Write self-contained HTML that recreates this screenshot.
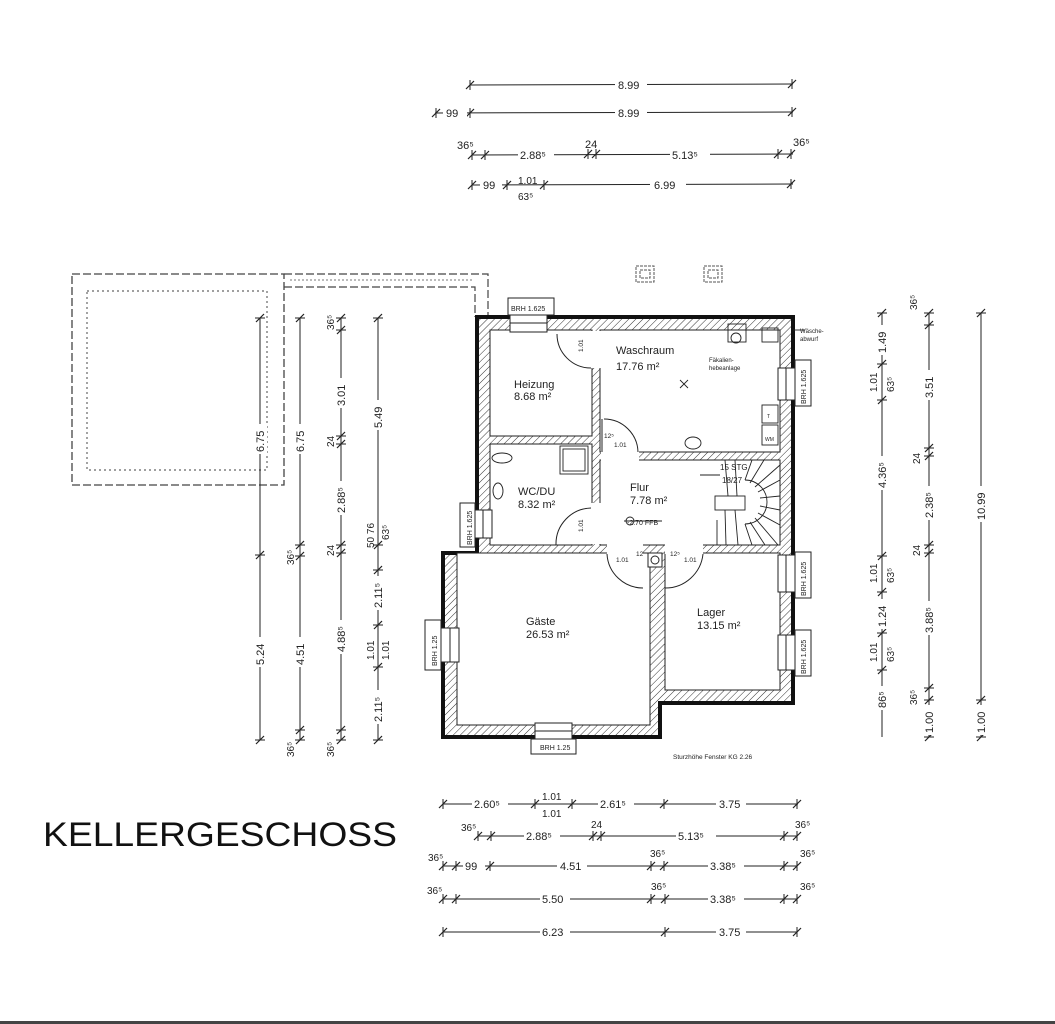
<!DOCTYPE html>
<html><head><meta charset="utf-8"><style>
html,body{margin:0;padding:0;background:#fff;}
svg{display:block}
text{font-family:"Liberation Sans",sans-serif;fill:#222}
</style></head><body>
<svg width="1055" height="1024" viewBox="0 0 1055 1024" xmlns="http://www.w3.org/2000/svg">
<defs>
<pattern id="h" width="5" height="5" patternUnits="userSpaceOnUse" patternTransform="rotate(45)">
<rect width="5" height="5" fill="#fff"/><line x1="0" y1="0" x2="0" y2="5" stroke="#333" stroke-width="1"/>
</pattern>
<g id="th"><line x1="-4" y1="4" x2="4" y2="-4" stroke="#222" stroke-width="1.2"/><line x1="0" y1="-5" x2="0" y2="5" stroke="#222" stroke-width="1"/></g>
<g id="tv"><line x1="-4" y1="4" x2="4" y2="-4" stroke="#222" stroke-width="1.2"/><line x1="-5" y1="0" x2="5" y2="0" stroke="#222" stroke-width="1"/></g>
</defs>
<rect width="1055" height="1024" fill="#fff"/>
<rect x="0" y="1021" width="1055" height="3" fill="#444"/>

<rect x="72" y="274" width="212" height="211" fill="none" stroke="#444" stroke-width="1.3" stroke-dasharray="8,3"/>
<rect x="87" y="291" width="180" height="179" fill="none" stroke="#666" stroke-width="1.2" stroke-dasharray="2,3"/>
<path d="M284 274 H488 V317 M284 287 H475 V317" fill="none" stroke="#444" stroke-width="1.2" stroke-dasharray="8,3"/>
<path d="M290 280 H472" fill="none" stroke="#777" stroke-width="1" stroke-dasharray="2,2"/>

<path d="M477 317 H793 V703 H660 V737 H443 V553 H477 Z" fill="url(#h)" stroke="#111" stroke-width="4"/>
<g fill="#fff" stroke="#222" stroke-width="1">
<rect x="490" y="330" width="102" height="106"/>
<rect x="600" y="330" width="180" height="122"/>
<rect x="490" y="444" width="102" height="101"/>
<rect x="600" y="460" width="180" height="85"/>
<rect x="665" y="553" width="115" height="137"/>
<rect x="457" y="553" width="193" height="172"/>
</g>
<g fill="#fff">
<rect x="601" y="451" width="38" height="10"/>
<rect x="591" y="503" width="10" height="41"/>
<rect x="591" y="331" width="10" height="37"/>
<rect x="607" y="544" width="36" height="10"/>
<rect x="665" y="544" width="38" height="10"/>
</g>
<rect x="648" y="553" width="14" height="14" fill="#fff" stroke="#222"/>
<circle cx="655" cy="560" r="4" fill="none" stroke="#222"/>

<g fill="#fff" stroke="#222" stroke-width="1">
<rect x="510" y="315" width="37" height="17"/><line x1="510" y1="323" x2="547" y2="323"/>
<rect x="778" y="368" width="17" height="32"/><line x1="786" y1="368" x2="786" y2="400"/>
<rect x="475" y="510" width="17" height="28"/><line x1="483" y1="510" x2="483" y2="538"/>
<rect x="778" y="555" width="17" height="37"/><line x1="786" y1="555" x2="786" y2="592"/>
<rect x="778" y="635" width="17" height="35"/><line x1="786" y1="635" x2="786" y2="670"/>
<rect x="441" y="628" width="18" height="34"/><line x1="450" y1="628" x2="450" y2="662"/>
<rect x="535" y="723" width="37" height="16"/><line x1="535" y1="731" x2="572" y2="731"/>
</g>
<g fill="none" stroke="#222" stroke-width="1">
<rect x="508" y="298" width="46" height="17"/>
<rect x="795" y="360" width="16" height="46"/>
<rect x="460" y="503" width="15" height="44"/>
<rect x="795" y="552" width="16" height="46"/>
<rect x="795" y="630" width="16" height="46"/>
<rect x="425" y="620" width="16" height="50"/>
<rect x="531" y="739" width="45" height="15"/>
</g>
<g font-size="7">
<text x="511" y="311">BRH 1.625</text>
<text x="540" y="750">BRH 1.25</text>
<text transform="translate(806,404) rotate(-90)">BRH 1.625</text>
<text transform="translate(472,545) rotate(-90)">BRH 1.625</text>
<text transform="translate(806,596) rotate(-90)">BRH 1.625</text>
<text transform="translate(806,674) rotate(-90)">BRH 1.625</text>
<text transform="translate(437,666) rotate(-90)">BRH 1.25</text>
</g>

<g fill="none" stroke="#222" stroke-width="1">
<path d="M557 334 A34 34 0 0 0 591 368"/>
<path d="M604 419 A34 34 0 0 1 638 452"/><line x1="602" y1="419" x2="602" y2="452"/>
<path d="M556 545 A36 36 0 0 1 591 508"/>
<path d="M607 554 A36 36 0 0 0 643 588"/>
<path d="M665 588 A38 38 0 0 0 703 554"/>
</g>
<g font-size="6.5">
<text transform="translate(583,352) rotate(-90)">1.01</text>
<text x="604" y="438">12⁵</text><text x="614" y="447">1.01</text>
<text transform="translate(583,532) rotate(-90)">1.01</text>
<text x="616" y="562">1.01</text><text x="636" y="556">12</text>
<text x="670" y="556">12⁵</text><text x="684" y="562">1.01</text>
</g>

<g fill="none" stroke="#222" stroke-width="0.9">
<rect x="715" y="496" width="30" height="14" fill="#fff"/>
<path d="M745 480 A22 22 0 0 1 745 524"/>
<line x1="725" y1="460" x2="728" y2="496"/><line x1="735" y1="460" x2="737" y2="496"/>
<line x1="745" y1="480" x2="752" y2="460"/><line x1="750" y1="483" x2="764" y2="460"/>
<line x1="755" y1="487" x2="780" y2="465"/><line x1="758" y1="492" x2="780" y2="480"/>
<line x1="760" y1="498" x2="780" y2="496"/><line x1="760" y1="506" x2="780" y2="510"/>
<line x1="758" y1="513" x2="780" y2="525"/><line x1="755" y1="518" x2="778" y2="545"/>
<line x1="750" y1="522" x2="765" y2="545"/><line x1="745" y1="524" x2="752" y2="545"/>
<line x1="725" y1="510" x2="726" y2="545"/><line x1="735" y1="510" x2="738" y2="545"/>
<line x1="700" y1="475" x2="720" y2="475"/><line x1="717" y1="520" x2="717" y2="545"/>
</g>
<text x="720" y="470" font-size="8">15 STG</text>
<text x="722" y="483" font-size="8">18/27</text>

<g fill="none" stroke="#222" stroke-width="0.9">
<rect x="560" y="446" width="28" height="28"/><rect x="563" y="449" width="22" height="22"/>
<ellipse cx="502" cy="458" rx="10" ry="5"/><ellipse cx="498" cy="491" rx="5" ry="8"/>
<ellipse cx="693" cy="443" rx="8" ry="6"/>
<rect x="728" y="324" width="18" height="18"/><circle cx="736" cy="338" r="5"/>
<rect x="762" y="328" width="16" height="14"/>
<rect x="762" y="405" width="16" height="18"/><rect x="762" y="425" width="16" height="20"/>
<circle cx="630" cy="521" r="4"/><line x1="624" y1="521" x2="662" y2="521"/>
<line x1="680" y1="380" x2="688" y2="388"/><line x1="688" y1="380" x2="680" y2="388"/>
<line x1="793" y1="330" x2="805" y2="330"/>
</g>
<text x="765" y="441" font-size="5">WM</text><text x="767" y="418" font-size="5">T</text>
<text x="709" y="362" font-size="6">Fäkalien-</text><text x="709" y="370" font-size="6">hebeanlage</text>
<text x="800" y="333" font-size="6">Wäsche-</text><text x="800" y="341" font-size="6">abwurf</text>
<text x="627" y="525" font-size="7">-2.70 FFB</text>

<g font-size="11">
<text x="616" y="354">Waschraum</text><text x="616" y="370">17.76  m²</text>
<text x="514" y="388">Heizung</text><text x="514" y="400">8.68  m²</text>
<text x="518" y="495">WC/DU</text><text x="518" y="508">8.32  m²</text>
<text x="630" y="491">Flur</text><text x="630" y="504">7.78  m²</text>
<text x="526" y="625">Gäste</text><text x="526" y="638">26.53  m²</text>
<text x="697" y="616">Lager</text><text x="697" y="629">13.15  m²</text>
</g>
<text x="673" y="759" font-size="6.5">Sturzhöhe Fenster KG  2.26</text>

<g fill="none" stroke="#555" stroke-width="1" stroke-dasharray="3,1">
<rect x="636" y="266" width="18" height="16"/><rect x="640" y="270" width="10" height="8"/>
<rect x="704" y="266" width="18" height="16"/><rect x="708" y="270" width="10" height="8"/>
</g>

<g stroke="#222" stroke-width="1">
<line x1="470" y1="85" x2="793" y2="84"/>
<line x1="435" y1="113" x2="793" y2="112"/>
<line x1="472" y1="155" x2="793" y2="154"/>
<line x1="472" y1="185" x2="793" y2="184"/>
</g>
<g>
<use href="#th" x="470" y="85"/><use href="#th" x="792" y="84"/>
<use href="#th" x="436" y="113"/><use href="#th" x="470" y="113"/><use href="#th" x="792" y="112"/>
<use href="#th" x="472" y="155"/><use href="#th" x="485" y="155"/><use href="#th" x="588" y="154"/><use href="#th" x="596" y="154"/><use href="#th" x="778" y="154"/><use href="#th" x="791" y="154"/>
<use href="#th" x="472" y="185"/><use href="#th" x="507" y="185"/><use href="#th" x="544" y="185"/><use href="#th" x="791" y="184"/>
</g>
<g font-size="11">
<rect x="615" y="77" width="32" height="14" fill="#fff"/><text x="618" y="89">8.99</text>
<rect x="615" y="105" width="32" height="14" fill="#fff"/><rect x="443" y="106" width="24" height="13" fill="#fff"/>
<text x="618" y="117">8.99</text><text x="446" y="117">99</text>
<rect x="518" y="147" width="36" height="14" fill="#fff"/><text x="520" y="159">2.88⁵</text>
<rect x="670" y="147" width="40" height="14" fill="#fff"/><text x="672" y="159">5.13⁵</text>
<text x="457" y="149">36⁵</text><text x="585" y="148">24</text><text x="793" y="146">36⁵</text>
<rect x="480" y="178" width="22" height="13" fill="#fff"/><text x="483" y="189">99</text>
<text x="518" y="184" font-size="10">1.01</text><text x="518" y="200" font-size="10">63⁵</text>
<rect x="650" y="177" width="36" height="14" fill="#fff"/><text x="654" y="189">6.99</text>
</g>

<g stroke="#222" stroke-width="1">
<line x1="260" y1="318" x2="260" y2="740"/>
<line x1="300" y1="318" x2="300" y2="740"/>
<line x1="341" y1="318" x2="341" y2="740"/>
<line x1="378" y1="318" x2="378" y2="740"/>
</g>
<g>
<use href="#tv" x="260" y="318"/><use href="#tv" x="260" y="555"/><use href="#tv" x="260" y="740"/>
<use href="#tv" x="300" y="318"/><use href="#tv" x="300" y="545"/><use href="#tv" x="300" y="556"/><use href="#tv" x="300" y="730"/><use href="#tv" x="300" y="740"/>
<use href="#tv" x="341" y="318"/><use href="#tv" x="341" y="330"/><use href="#tv" x="341" y="436"/><use href="#tv" x="341" y="444"/><use href="#tv" x="341" y="545"/><use href="#tv" x="341" y="553"/><use href="#tv" x="341" y="730"/><use href="#tv" x="341" y="740"/>
<use href="#tv" x="378" y="318"/><use href="#tv" x="378" y="545"/><use href="#tv" x="378" y="570"/><use href="#tv" x="378" y="625"/><use href="#tv" x="378" y="667"/><use href="#tv" x="378" y="740"/>
</g>
<g font-size="11">
<g transform="translate(264,452) rotate(-90)"><rect x="-2" y="-10" width="30" height="13" fill="#fff"/><text>6.75</text></g>
<g transform="translate(264,665) rotate(-90)"><rect x="-2" y="-10" width="30" height="13" fill="#fff"/><text>5.24</text></g>
<g transform="translate(304,452) rotate(-90)"><rect x="-2" y="-10" width="30" height="13" fill="#fff"/><text>6.75</text></g>
<g transform="translate(304,665) rotate(-90)"><rect x="-2" y="-10" width="30" height="13" fill="#fff"/><text>4.51</text></g>
<g transform="translate(345,406) rotate(-90)"><rect x="-2" y="-10" width="30" height="13" fill="#fff"/><text>3.01</text></g>
<g transform="translate(345,513) rotate(-90)"><rect x="-2" y="-10" width="34" height="13" fill="#fff"/><text>2.88⁵</text></g>
<g transform="translate(345,652) rotate(-90)"><rect x="-2" y="-10" width="34" height="13" fill="#fff"/><text>4.88⁵</text></g>
<g transform="translate(382,428) rotate(-90)"><rect x="-2" y="-10" width="30" height="13" fill="#fff"/><text>5.49</text></g>
<g transform="translate(382,608) rotate(-90)"><rect x="-2" y="-10" width="34" height="13" fill="#fff"/><text>2.11⁵</text></g>
<g transform="translate(382,722) rotate(-90)"><rect x="-2" y="-10" width="34" height="13" fill="#fff"/><text>2.11⁵</text></g>
<text transform="translate(374,548) rotate(-90)" font-size="10">50 76</text>
<text transform="translate(389,540) rotate(-90)" font-size="10">63⁵</text>
<text transform="translate(374,660) rotate(-90)" font-size="10">1.01</text>
<text transform="translate(389,660) rotate(-90)" font-size="10">1.01</text>
<text transform="translate(334,330) rotate(-90)" font-size="10">36⁵</text>
<text transform="translate(334,447) rotate(-90)" font-size="10">24</text>
<text transform="translate(334,556) rotate(-90)" font-size="10">24</text>
<text transform="translate(294,565) rotate(-90)" font-size="10">36⁵</text>
<text transform="translate(294,757) rotate(-90)" font-size="10">36⁵</text>
<text transform="translate(334,757) rotate(-90)" font-size="10">36⁵</text>
</g>

<g stroke="#222" stroke-width="1">
<line x1="882" y1="313" x2="882" y2="737"/>
<line x1="929" y1="313" x2="929" y2="737"/>
<line x1="981" y1="313" x2="981" y2="737"/>
</g>
<g>
<use href="#tv" x="882" y="313"/><use href="#tv" x="882" y="364"/><use href="#tv" x="882" y="400"/><use href="#tv" x="882" y="556"/><use href="#tv" x="882" y="592"/><use href="#tv" x="882" y="633"/><use href="#tv" x="882" y="670"/><use href="#tv" x="882" y="705"/>
<use href="#tv" x="929" y="313"/><use href="#tv" x="929" y="325"/><use href="#tv" x="929" y="448"/><use href="#tv" x="929" y="456"/><use href="#tv" x="929" y="545"/><use href="#tv" x="929" y="553"/><use href="#tv" x="929" y="688"/><use href="#tv" x="929" y="700"/><use href="#tv" x="929" y="737"/>
<use href="#tv" x="981" y="313"/><use href="#tv" x="981" y="700"/><use href="#tv" x="981" y="737"/>
</g>
<g font-size="11">
<g transform="translate(886,353) rotate(-90)"><rect x="-2" y="-10" width="30" height="13" fill="#fff"/><text>1.49</text></g>
<g transform="translate(886,488) rotate(-90)"><rect x="-2" y="-10" width="34" height="13" fill="#fff"/><text>4.36⁵</text></g>
<g transform="translate(886,627) rotate(-90)"><rect x="-2" y="-10" width="30" height="13" fill="#fff"/><text>1.24</text></g>
<g transform="translate(886,708) rotate(-90)"><rect x="-2" y="-10" width="24" height="13" fill="#fff"/><text>86⁵</text></g>
<text transform="translate(877,392) rotate(-90)" font-size="10">1.01</text>
<text transform="translate(894,392) rotate(-90)" font-size="10">63⁵</text>
<text transform="translate(877,583) rotate(-90)" font-size="10">1.01</text>
<text transform="translate(894,583) rotate(-90)" font-size="10">63⁵</text>
<text transform="translate(877,662) rotate(-90)" font-size="10">1.01</text>
<text transform="translate(894,662) rotate(-90)" font-size="10">63⁵</text>
<g transform="translate(933,398) rotate(-90)"><rect x="-2" y="-10" width="30" height="13" fill="#fff"/><text>3.51</text></g>
<g transform="translate(933,518) rotate(-90)"><rect x="-2" y="-10" width="34" height="13" fill="#fff"/><text>2.38⁵</text></g>
<g transform="translate(933,633) rotate(-90)"><rect x="-2" y="-10" width="34" height="13" fill="#fff"/><text>3.88⁵</text></g>
<g transform="translate(933,733) rotate(-90)"><rect x="-2" y="-10" width="30" height="13" fill="#fff"/><text>1.00</text></g>
<text transform="translate(917,310) rotate(-90)" font-size="10">36⁵</text>
<text transform="translate(920,464) rotate(-90)" font-size="10">24</text>
<text transform="translate(920,556) rotate(-90)" font-size="10">24</text>
<text transform="translate(917,705) rotate(-90)" font-size="10">36⁵</text>
<g transform="translate(985,520) rotate(-90)"><rect x="-2" y="-10" width="36" height="13" fill="#fff"/><text>10.99</text></g>
<g transform="translate(985,733) rotate(-90)"><rect x="-2" y="-10" width="30" height="13" fill="#fff"/><text>1.00</text></g>
</g>

<g stroke="#222" stroke-width="1">
<line x1="443" y1="804" x2="798" y2="804"/>
<line x1="478" y1="836" x2="797" y2="836"/>
<line x1="443" y1="866" x2="797" y2="866"/>
<line x1="443" y1="899" x2="797" y2="899"/>
<line x1="443" y1="932" x2="797" y2="932"/>
</g>
<g>
<use href="#th" x="443" y="804"/><use href="#th" x="535" y="804"/><use href="#th" x="572" y="804"/><use href="#th" x="664" y="804"/><use href="#th" x="797" y="804"/>
<use href="#th" x="478" y="836"/><use href="#th" x="491" y="836"/><use href="#th" x="593" y="836"/><use href="#th" x="601" y="836"/><use href="#th" x="784" y="836"/><use href="#th" x="797" y="836"/>
<use href="#th" x="443" y="866"/><use href="#th" x="456" y="866"/><use href="#th" x="490" y="866"/><use href="#th" x="651" y="866"/><use href="#th" x="664" y="866"/><use href="#th" x="784" y="866"/><use href="#th" x="797" y="866"/>
<use href="#th" x="443" y="899"/><use href="#th" x="456" y="899"/><use href="#th" x="651" y="899"/><use href="#th" x="665" y="899"/><use href="#th" x="784" y="899"/><use href="#th" x="797" y="899"/>
<use href="#th" x="443" y="932"/><use href="#th" x="665" y="932"/><use href="#th" x="797" y="932"/>
</g>
<g font-size="11">
<rect x="472" y="797" width="36" height="14" fill="#fff"/><text x="474" y="808">2.60⁵</text>
<text x="542" y="800" font-size="10">1.01</text><text x="542" y="817" font-size="10">1.01</text>
<rect x="598" y="797" width="36" height="14" fill="#fff"/><text x="600" y="808">2.61⁵</text>
<rect x="716" y="797" width="30" height="14" fill="#fff"/><text x="719" y="808">3.75</text>
<text x="461" y="831" font-size="10">36⁵</text><text x="591" y="828" font-size="10">24</text><text x="795" y="828" font-size="10">36⁵</text>
<rect x="524" y="829" width="36" height="14" fill="#fff"/><text x="526" y="840">2.88⁵</text>
<rect x="676" y="829" width="40" height="14" fill="#fff"/><text x="678" y="840">5.13⁵</text>
<text x="428" y="861" font-size="10">36⁵</text><rect x="463" y="859" width="22" height="14" fill="#fff"/><text x="465" y="870">99</text>
<rect x="557" y="859" width="30" height="14" fill="#fff"/><text x="560" y="870">4.51</text>
<text x="650" y="857" font-size="10">36⁵</text>
<rect x="708" y="859" width="36" height="14" fill="#fff"/><text x="710" y="870">3.38⁵</text>
<text x="800" y="857" font-size="10">36⁵</text>
<text x="427" y="894" font-size="10">36⁵</text>
<rect x="540" y="892" width="30" height="14" fill="#fff"/><text x="542" y="903">5.50</text>
<text x="651" y="890" font-size="10">36⁵</text>
<rect x="708" y="892" width="36" height="14" fill="#fff"/><text x="710" y="903">3.38⁵</text>
<text x="800" y="890" font-size="10">36⁵</text>
<rect x="540" y="925" width="30" height="14" fill="#fff"/><text x="542" y="936">6.23</text>
<rect x="716" y="925" width="30" height="14" fill="#fff"/><text x="719" y="936">3.75</text>
</g>

<text x="43" y="846" font-size="34" textLength="354" lengthAdjust="spacingAndGlyphs" style="fill:#111;stroke:#fff;stroke-width:0.9;paint-order:stroke">KELLERGESCHOSS</text>
</svg>
</body></html>
